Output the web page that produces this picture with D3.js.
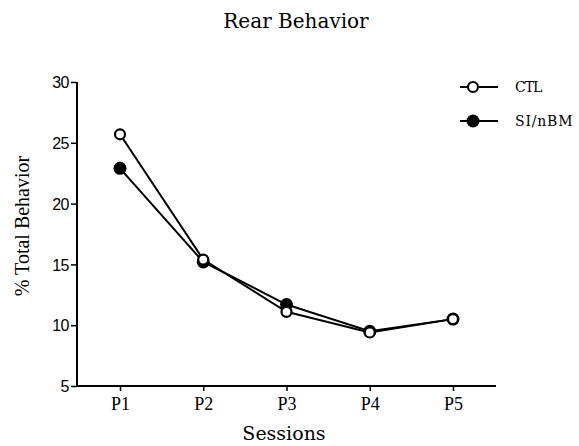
<!DOCTYPE html>
<html>
<head>
<meta charset="utf-8">
<script src="https://cdn.jsdelivr.net/npm/d3@7"></script>
<style>
  body { margin: 0; background: #fff; }
  text { fill: #000; }
</style>
</head>
<body>
<div id="chart"></div>
<script>
var sessions = ["P1", "P2", "P3", "P4", "P5"];
var ctl = [25.7, 15.4, 11.1, 9.4, 10.5];
var sinbm = [22.9, 15.2, 11.7, 9.5, 10.5];
var yTicks = [5, 10, 15, 20, 25, 30];

var svg = d3.select("#chart").append("svg")
  .attr("width", 579)
  .attr("height", 446);

var x = d3.scalePoint()
  .domain(sessions)
  .range([120, 453]);

var y = d3.scaleLinear()
  .domain([5, 30])
  .range([386, 82]);

// axes
var yAxis = svg.append("g")
  .attr("transform", "translate(77,0)")
  .call(d3.axisLeft(y).tickValues(yTicks).tickSize(6).tickPadding(2));
yAxis.select(".domain").attr("d", "M0,82V386").attr("stroke-width", 2);
yAxis.selectAll(".tick text")
  .attr("font-family", "Liberation Sans")
  .attr("font-size", 16)
  .attr("letter-spacing", -0.5)
  .attr("dy", "0.35em");

var xAxis = svg.append("g")
  .attr("transform", "translate(0,386)")
  .call(d3.axisBottom(x).tickSize(5).tickPadding(6));
xAxis.select(".domain").attr("d", "M76,0H496").attr("stroke-width", 2);
xAxis.selectAll(".tick text")
  .attr("font-family", "Liberation Serif")
  .attr("font-size", 18);

svg.selectAll(".tick line").attr("stroke-width", 1.5);

var line = d3.line()
  .x(function(d, i) { return x(sessions[i]); })
  .y(function(d) { return y(d); });

// SI/nBM first, CTL drawn on top
svg.append("path")
  .datum(sinbm)
  .attr("d", line)
  .attr("fill", "none")
  .attr("stroke", "#000")
  .attr("stroke-width", 2);
svg.append("path")
  .datum(ctl)
  .attr("d", line)
  .attr("fill", "none")
  .attr("stroke", "#000")
  .attr("stroke-width", 2);

svg.selectAll(".dot-si")
  .data(sinbm)
  .enter().append("circle")
  .attr("cx", function(d, i) { return x(sessions[i]); })
  .attr("cy", function(d) { return y(d); })
  .attr("r", 6.5)
  .attr("fill", "#000");

svg.selectAll(".dot-ctl")
  .data(ctl)
  .enter().append("circle")
  .attr("cx", function(d, i) { return x(sessions[i]); })
  .attr("cy", function(d) { return y(d); })
  .attr("r", 5)
  .attr("fill", "#fff")
  .attr("stroke", "#000")
  .attr("stroke-width", 2.2);

// legend
var legend = [
  { name: "CTL", filled: false, y: 87 },
  { name: "SI/nBM", filled: true, y: 121 }
];
legend.forEach(function(l) {
  svg.append("line")
    .attr("x1", 460).attr("x2", 498)
    .attr("y1", l.y).attr("y2", l.y)
    .attr("stroke", "#000").attr("stroke-width", 2);
  svg.append("circle")
    .attr("cx", 473).attr("cy", l.y)
    .attr("r", l.filled ? 6.5 : 5)
    .attr("fill", l.filled ? "#000" : "#fff")
    .attr("stroke", "#000")
    .attr("stroke-width", l.filled ? 0 : 2.2);
  svg.append("text")
    .attr("x", 515).attr("y", l.y)
    .attr("dy", "0.35em")
    .attr("font-family", "DejaVu Serif")
    .attr("font-size", 14)
    .attr("letter-spacing", l.filled ? 0.8 : -1)
    .text(l.name);
});

// titles
svg.append("text")
  .attr("x", 296).attr("y", 28)
  .attr("text-anchor", "middle")
  .attr("font-family", "DejaVu Serif")
  .attr("font-size", 20)
  .text("Rear Behavior");

svg.append("text")
  .attr("x", 284).attr("y", 440)
  .attr("text-anchor", "middle")
  .attr("font-family", "DejaVu Serif")
  .attr("font-size", 19)
  .text("Sessions");

svg.append("text")
  .attr("transform", "translate(29,226) rotate(-90)")
  .attr("text-anchor", "middle")
  .attr("font-family", "Liberation Serif")
  .attr("font-size", 20)
  .text("% Total Behavior");
</script>
</body>
</html>
